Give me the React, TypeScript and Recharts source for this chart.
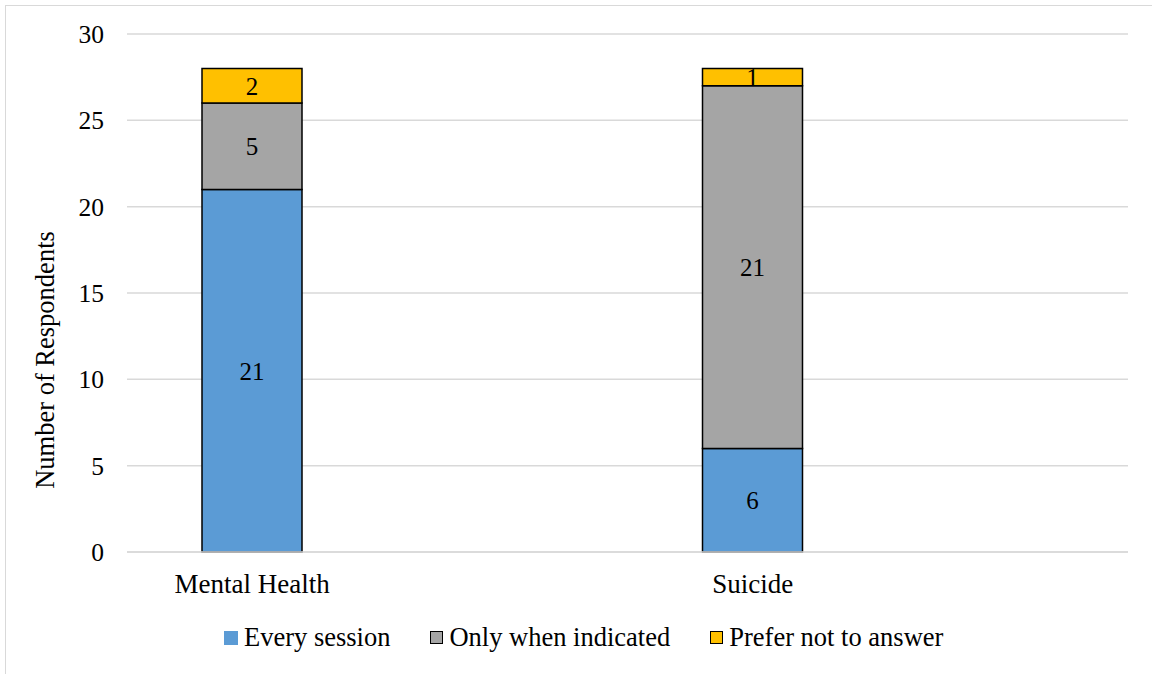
import React from 'react';
import { BarChart, Bar, XAxis, YAxis, CartesianGrid, LabelList } from 'recharts';

// Topic rows; the unnamed rows are spacer slots in the category axis
const topics = ['Mental Health', '', 'Suicide', ''];
const everySession = [21, null, 6, null];
const onlyWhenIndicated = [5, null, 21, null];
const preferNotToAnswer = [2, null, 1, null];
const yTicks = [0, 5, 10, 15, 20, 25, 30];

const series = [
  { key: 'every', name: 'Every session', color: '#5B9BD5', legendBorder: false },
  { key: 'only', name: 'Only when indicated', color: '#A5A5A5', legendBorder: true },
  { key: 'prefer', name: 'Prefer not to answer', color: '#FFC000', legendBorder: true },
];

const data = topics.map((topic, i) => ({
  topic,
  every: everySession[i],
  only: onlyWhenIndicated[i],
  prefer: preferNotToAnswer[i],
}));

const FONT = "'Liberation Serif'";

const LegendRow = () => (
  <div
    style={{
      position: 'absolute',
      left: 224,
      top: 622,
      display: 'flex',
      alignItems: 'center',
      fontFamily: FONT,
      fontSize: 26.5,
      color: '#000',
      whiteSpace: 'nowrap',
    }}
  >
    {series.map((s, i) => (
      <div key={s.key} style={{ display: 'flex', alignItems: 'center', marginLeft: i === 0 ? 0 : 40 }}>
        <span
          style={{
            width: s.legendBorder ? 11 : 14,
            height: s.legendBorder ? 11 : 14,
            background: s.color,
            border: s.legendBorder ? '1.5px solid #000' : 'none',
            marginRight: 6,
            display: 'inline-block',
          }}
        />
        <span>{s.name}</span>
      </div>
    ))}
  </div>
);

const YTitle = () => (
  <text
    x={45}
    y={360}
    transform="rotate(-90 45 360)"
    textAnchor="middle"
    dominantBaseline="central"
    style={{ fontFamily: FONT }}
    fontSize={26.5}
    fill="#000"
  >
    Number of Respondents
  </text>
);

export default function App() {
  return (
    <div style={{ position: 'absolute', left: 0, top: 0, width: 1152, height: 674, background: '#fff', overflow: 'hidden' }}>
      <div style={{ position: 'absolute', left: 5, top: 5, width: 1200, height: 700, border: '1.5px solid #d9d9d9' }} />
      <BarChart
        width={1152}
        height={674}
        data={data}
        margin={{ top: 34, right: 24, bottom: 0, left: 0 }}
        barSize={100}
        style={{ position: 'absolute', left: 0, top: 0 }}
      >
        <CartesianGrid vertical={false} stroke="#d9d9d9" strokeWidth={1.5} />
        <XAxis
          dataKey="topic"
          height={122}
          axisLine={{ stroke: '#d9d9d9', strokeWidth: 1.5 }}
          tickLine={false}
          tickSize={0}
          tickMargin={22}
          interval={0}
          tick={{ style: { fontFamily: FONT }, fontSize: 27, fill: '#000' }}
        />
        <YAxis
          width={127}
          domain={[0, 30]}
          ticks={yTicks}
          axisLine={false}
          tickLine={false}
          tickSize={0}
          tickMargin={23}
          tick={{ style: { fontFamily: FONT }, fontSize: 25.5, fill: '#000' }}
          label={{ content: () => <YTitle /> }}
        />
        {series.map((s) => (
          <Bar
            key={s.key}
            dataKey={s.key}
            name={s.name}
            stackId="a"
            fill={s.color}
            stroke="#000"
            strokeWidth={1.5}
            isAnimationActive={false}
          >
            <LabelList
              dataKey={s.key}
              position="center"
              style={{ fontFamily: FONT, fontSize: 25, fill: '#000' }}
            />
          </Bar>
        ))}
      </BarChart>
      <LegendRow />
    </div>
  );
}
